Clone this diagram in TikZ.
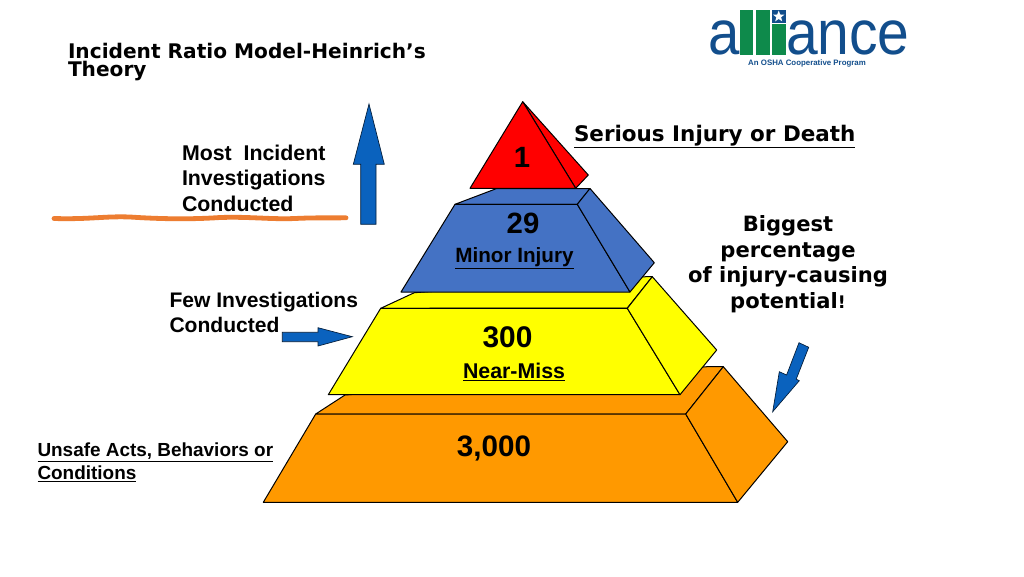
\documentclass[tikz,border=0pt]{standalone}
\usepackage{fontspec}
\setmainfont{Liberation Sans}
\newfontfamily\verd{DejaVu Sans}
\usetikzlibrary{shapes.geometric}
\definecolor{arrowblue}{HTML}{0A62BE}
\definecolor{blocka}{HTML}{FF9900}
\definecolor{blockb}{HTML}{FFFF00}
\definecolor{blockc}{HTML}{4472C4}
\definecolor{blockd}{HTML}{FF0000}
\definecolor{scribble}{HTML}{ED7D31}
\definecolor{logoblue}{HTML}{124E8C}
\definecolor{logogreen}{HTML}{0E8A4B}
\newcommand{\fsz}[2]{\fontsize{#1}{#2}\selectfont}
\tikzset{
  block/.style={draw=black,line width=0.75pt,line join=round},
  bluearrow/.style={fill=arrowblue,draw=black!70!arrowblue,line width=0.5pt,line join=miter},
  lbl/.style={inner sep=0pt,outer sep=0pt,anchor=north west,align=left,text=black},
  vlbl/.style={inner sep=0pt,outer sep=0pt,align=center,text=black},
  num/.style={inner sep=0pt,outer sep=0pt,anchor=base,text=black},
  logotxt/.style={inner sep=0pt,outer sep=0pt,anchor=base west,text=logoblue}
}
\begin{document}
\begin{tikzpicture}[x=0.75pt,y=-0.75pt]
\useasboundingbox[fill=white] (0,0) rectangle (1024,576);

% orange block
\draw[block,fill=blocka] (315.7,414) -- (345,395) -- (707,366.7) -- (723.3,366.7) -- (685.7,414) -- cycle;
\draw[block,fill=blocka] (263.3,502.3) -- (315.7,414) -- (685.7,414) -- (737.7,502.3) -- cycle;
\draw[block,fill=blocka] (685.7,414) -- (723.3,366.7) -- (787.7,441.7) -- (737.7,502.3) -- cycle;
% yellow block
\draw[block,fill=blockb] (380.7,308.3) -- (414.3,292.7) -- (646,276.7) -- (652.3,276.7) -- (627.3,308) -- cycle;
\draw[block,fill=blockb] (328.3,394.7) -- (380.7,308.3) -- (627.3,308.3) -- (680,394.7) -- cycle;
\draw[block,fill=blockb] (627.3,308.3) -- (652.3,276.7) -- (716.7,350) -- (680,394.7) -- cycle;
% blue block
\draw[block,fill=blockc] (455,204.3) -- (496.7,188.5) -- (590,188.5) -- (577.3,204.3) -- cycle;
\draw[block,fill=blockc] (401,292) -- (455,204.3) -- (577.3,204.3) -- (630,292) -- cycle;
\draw[block,fill=blockc] (577.3,204.3) -- (590,188.5) -- (654.3,262.7) -- (630,292) -- cycle;
% red block
\draw[block,fill=blockd] (522.7,101.7) -- (588.3,175) -- (575.7,188.3) -- cycle;
\draw[block,fill=blockd] (522.7,101.7) -- (470,188.3) -- (575.7,188.3) -- cycle;

% arrows
\draw[bluearrow] (369,104) -- (384.3,164.3) -- (376,164.3) -- (376,224.3) -- (360.7,224.3) -- (360.7,164.3) -- (353.3,164.3) -- cycle;
\draw[bluearrow] (352.3,336.7) -- (318,346) -- (318,341.7) -- (282.3,341.7) -- (282.3,332.3) -- (318,332.3) -- (318,327.7) -- cycle;
\draw[bluearrow] (772.7,411.7) -- (779.3,371.7) -- (786.6,375) -- (799,342.7) -- (808.7,347.3) -- (796.2,379.2) -- (799.3,380.7) -- cycle;

% scribble
\draw[scribble,line width=3.6pt,line cap=round]
  (54,218.5) .. controls (90,219.5) and (105,216) .. (130,217) .. controls (160,219) and (190,219.5) .. (220,217.5)
  .. controls (250,216.5) and (270,219.5) .. (295,218.5) .. controls (315,217.5) and (330,218) .. (346,217.8);

% numbers
\node[num,font=\bfseries\fsz{22}{24}] (n1) at (522,167) {1};
\node[num,font=\bfseries\fsz{22}{24}] (n29) at (523,233.5) {29};
\node[num,font=\bfseries\fsz{15.5}{18}] (nminor) at (514.5,262) {\underline{Minor Injury}};
\node[num,font=\bfseries\fsz{22.4}{24}] (n300) at (507.5,347.5) {300};
\node[num,font=\bfseries\fsz{16}{18}] (nnear) at (514,378) {\underline{Near-Miss}};
\node[num,font=\bfseries\fsz{22.2}{24}] (n3000) at (494,456) {3,000};

% labels
\node[lbl,font=\bfseries\fsz{16}{19}] (most) at (182,145) {Most\ \ Incident\\Investigations\\Conducted};
\node[lbl,font=\bfseries\fsz{15.8}{19}] (few) at (169.5,292) {Few Investigations\\Conducted};
\node[lbl,font=\bfseries\fsz{14.2}{17}] (unsafe) at (37.5,443) {\underline{Unsafe Acts, Behaviors or}\\\underline{Conditions}};
\node[vlbl,anchor=north west,align=left,font=\verd\bfseries\fsz{15.1}{13.5}] (title) at (68,43) {Incident Ratio Model-Heinrich’s\\Theory};
\node[vlbl,anchor=base west,font=\verd\bfseries\fsz{16.1}{18}] (serious) at (574,141) {\underline{Serious Injury or Death}};
\node[vlbl,anchor=north,font=\verd\bfseries\fsz{15.8}{19.2}] (biggest) at (788,215.5) {Biggest\\percentage\\of injury-causing\\potential{\fsz{13}{12}!}};

% logo
\node[logotxt,xscale=0.9,font=\fsz{47}{50}] (logoa) at (708,54.5) {a};
\fill[logogreen] (740,10) rectangle (753,55);
\fill[logogreen] (755.7,10) rectangle (770,55);
\fill[logogreen] (771.7,24) rectangle (785.7,55);
\fill[logoblue] (771.7,10) rectangle (785.7,23);
\node[star,star points=5,star point ratio=2.4,fill=white,inner sep=0pt,minimum size=9pt] (logostar) at (778.7,16.5) {};
\node[logotxt,xscale=0.91,font=\fsz{47}{50}] (logob) at (786,54.5) {ance};
\node[inner sep=0pt,text=logoblue,font=\bfseries\fsz{5.9}{7}] (logoc) at (807,63) {An OSHA Cooperative Program};
\end{tikzpicture}
\end{document}
